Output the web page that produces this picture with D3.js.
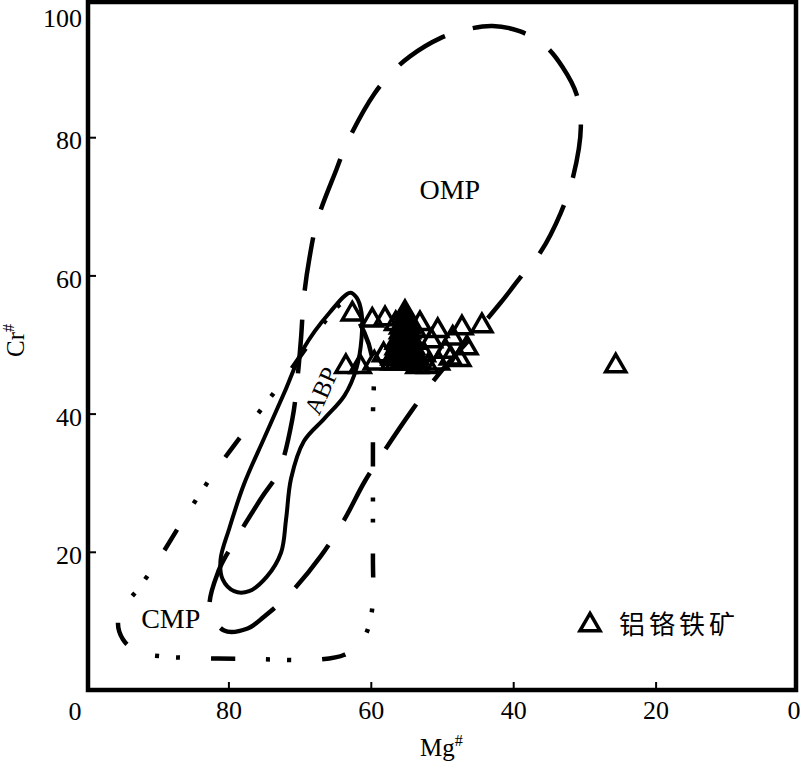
<!DOCTYPE html>
<html>
<head>
<meta charset="utf-8">
<script src="https://cdn.jsdelivr.net/npm/d3@7"></script>
<style>
html,body{margin:0;padding:0;background:#fff;}
svg{display:block;}
</style>
</head>
<body>
<div id="chart"></div>
<script>
// ---- data ----
const xTicks = [80, 60, 40, 20, 0];
const yTicks = [20, 40, 60, 80, 100];

// field outlines [Mg#, Cr#]
const ompField = [
  [80.6,8.6],[77.3,8.9],[75.0,10.6],[71.5,13.8],[67.0,19.4],[63.7,24.7],[60.9,30.1],[58.1,34.6],
  [54.2,40.5],[50.3,45.9],[46.0,50.9],[41.8,56.0],[39.0,59.7],[36.2,63.3],[33.3,69.1],[31.6,74.2],
  [30.5,81.5],[31.1,86.2],[33.1,90.2],[35.5,93.2],[39.0,95.3],[42.9,96.1],[46.5,95.6],[50.3,94.3],
  [54.5,91.7],[56.9,89.5],[59.5,86.3],[63.3,79.3],[64.8,75.4],[67.5,68.0],[68.6,62.6],[69.4,56.8],
  [69.8,50.9],[70.3,45.1],[71.0,39.3],[72.9,31.7],[75.3,27.9],[79.2,21.4],[81.4,17.2],[82.6,11.8]
];
const abpField = [
  [62.9,57.5],[65.8,54.6],[69.4,49.5],[72.2,42.9],[75.0,36.4],[77.8,29.8],[79.9,23.3],[81.1,18.9],
  [80.8,16.0],[79.2,14.3],[77.1,14.3],[74.6,16.4],[72.6,19.9],[71.9,24.7],[71.2,30.6],[69.4,36.0],
  [66.5,39.3],[63.7,42.6],[62.0,46.6],[61.3,50.9],[61.3,54.6],[62.0,56.8]
];
const cmpField = [
  [63.7,56.0],[60.9,51.7],[59.7,47.3],[59.7,39.3],[59.7,27.7],[59.7,18.9],[59.7,13.1],[60.2,9.5],
  [61.3,7.0],[63.7,5.1],[67.2,4.4],[77.1,4.5],[88.4,4.8],[92.7,5.5],[94.8,7.3],[95.5,9.9],
  [94.4,12.4],[92.7,14.6],[89.8,18.9],[86.3,24.7],[82.1,31.3],[77.1,38.3],[72.6,44.4],[68.6,50.2],
  [65.8,54.1]
];
const fieldNames = ["OMP", "ABP", "CMP"];
const fieldLabelPos = [[48.9, 71.1], [67.0, 43.3], [88.1, 9.0]];

// 铝铬铁矿 (aluminian chromite) analyses [Mg#, Cr#]
const chromiteMg = [62.6,59.8,58.0,53.1,50.6,47.2,44.4,48.5,46.5,49.5,51.5,52.5,
  63.5,61.5,59.5,58.2,53.5,52.0,50.5,48.8,47.5,
  55.2,55.2,55.2,55.2,55.2,55.2,55.2,55.2,55.2,55.2,55.2,55.2,55.2,55.2,55.2,
  55.8,55.8,55.8,55.8,55.8,55.8,55.8,55.8,
  54.6,54.6,54.6,54.6,54.6,54.6,54.6,54.6,
  56.4,56.4,56.4,56.4,56.4,
  54.0,54.0,54.0,54.0,54.0,
  57.0,57.0,53.4,53.4,53.8,56.5,
  25.6];
const chromiteCr = [54.4,53.5,53.7,53.0,52.0,52.4,52.7,50.9,49.5,49.0,50.5,48.5,
  46.8,46.8,47.3,48.5,46.8,46.8,47.3,48.0,47.8,
  47.5,48.0,48.5,49.0,49.5,50.0,50.5,51.0,51.5,52.0,52.5,53.0,53.5,54.0,54.6,
  47.3,48.0,48.8,49.5,50.3,51.0,51.8,52.5,
  47.3,48.0,48.8,49.5,50.3,51.0,51.8,52.5,
  47.3,48.0,48.8,49.5,50.3,
  47.3,48.0,48.8,49.5,50.3,
  47.3,48.0,47.3,48.0,52.0,53.0,
  46.9];
const legendLabel = "铝铬铁矿";

// ---- drawing ----
const W = 800, H = 765;
const svg = d3.select("#chart").append("svg").attr("width", W).attr("height", H);

const x = d3.scaleLinear().domain([100, 0]).range([86, 798]);
const y = d3.scaleLinear().domain([0, 100]).range([690, -1]);

const serif = "'Liberation Serif','Times New Roman',serif";

// fields
const line = d3.line().x(d => x(d[0])).y(d => y(d[1])).curve(d3.curveCatmullRomClosed.alpha(0.5));
const g = svg.append("g");
g.append("path").attr("d", line(cmpField)).attr("fill", "none").attr("stroke", "#000")
  .attr("stroke-width", 4.5).attr("stroke-dasharray", "24,31,4,17,4,31");
g.append("path").attr("d", line(ompField)).attr("fill", "none").attr("stroke", "#000")
  .attr("stroke-width", 4.5).attr("stroke-dasharray", "54,29").attr("stroke-dashoffset", 20);
g.append("path").attr("d", line(abpField)).attr("fill", "none").attr("stroke", "#000")
  .attr("stroke-width", 4);

// field labels
g.append("text").attr("x", x(fieldLabelPos[0][0])).attr("y", y(fieldLabelPos[0][1]))
  .attr("text-anchor", "middle").attr("font-family", serif).attr("font-size", 28).text(fieldNames[0]);
g.append("text").attr("transform", `translate(${x(fieldLabelPos[1][0])},${y(fieldLabelPos[1][1])}) rotate(-66)`)
  .attr("text-anchor", "middle").attr("dy", "0.35em").attr("font-family", serif).attr("font-size", 25).text(fieldNames[1]);
g.append("text").attr("x", x(fieldLabelPos[2][0])).attr("y", y(fieldLabelPos[2][1]))
  .attr("text-anchor", "middle").attr("font-family", serif).attr("font-size", 28).text(fieldNames[2]);

// points
const tri = d3.symbol().type(d3.symbolTriangle).size(175);
const pts = chromiteMg.map((m, i) => [m, chromiteCr[i]]);
svg.append("g").selectAll("path").data(pts).join("path")
  .attr("d", tri).attr("transform", d => `translate(${x(d[0])},${y(d[1])})`)
  .attr("fill", "none").attr("stroke", "#000").attr("stroke-width", 3.5);

// axes
const xAxis = svg.append("g").attr("transform", `translate(0,${y(0)})`)
  .call(d3.axisBottom(x).tickValues(xTicks).tickSizeInner(-8).tickSizeOuter(0).tickPadding(11).tickFormat(d3.format("d")));
const yAxis = svg.append("g").attr("transform", `translate(${x(100) + 2},0)`)
  .call(d3.axisLeft(y).tickValues(yTicks).tickSizeInner(-8).tickSizeOuter(0).tickPadding(6).tickFormat(d3.format("d")));
[xAxis, yAxis].forEach(a => {
  a.select(".domain").remove();
  a.selectAll(".tick line").attr("stroke", "#000").attr("stroke-width", 2);
  a.selectAll(".tick text").attr("font-family", serif).attr("font-size", 26).attr("fill", "#000");
});
yAxis.selectAll(".tick text").attr("dy", d => d === 100 ? "1.05em" : "0.45em");
xAxis.selectAll(".tick").filter(d => d === 0).select("line").remove();
xAxis.selectAll(".tick").filter(d => d === 0).select("text").attr("text-anchor", "end").attr("x", 2);
yAxis.selectAll(".tick").filter(d => d === 100).select("line").remove();

// origin label
svg.append("text").attr("x", x(100) - 11).attr("y", y(0) + 30).attr("text-anchor", "middle")
  .attr("font-family", serif).attr("font-size", 26).text("0");

// frame
svg.append("rect").attr("x", x(100) + 2).attr("y", 2).attr("width", x(0) - 2 - (x(100) + 2))
  .attr("height", y(0) - 2).attr("fill", "none").attr("stroke", "#000").attr("stroke-width", 4.5);

// axis titles
const xt = svg.append("text").attr("x", 420).attr("y", 756).attr("font-family", serif).attr("font-size", 25);
xt.append("tspan").text("Mg");
xt.append("tspan").attr("dy", -10).attr("font-size", 16).text("#");
const yt = svg.append("text").attr("transform", "translate(24,357) rotate(-90)").attr("font-family", serif).attr("font-size", 25);
yt.append("tspan").text("Cr");
yt.append("tspan").attr("dy", -10).attr("font-size", 16).text("#");

// legend
const lg = svg.append("g").attr("transform", "translate(590,625)");
lg.append("path").attr("d", tri).attr("fill", "none").attr("stroke", "#000").attr("stroke-width", 3.5);
lg.append("text").attr("x", 29).attr("y", 0).attr("dy", "0.36em")
  .attr("font-family", "'Noto Sans CJK SC',sans-serif").attr("font-size", 26).attr("letter-spacing", 4)
  .text(legendLabel);
</script>
</body>
</html>
